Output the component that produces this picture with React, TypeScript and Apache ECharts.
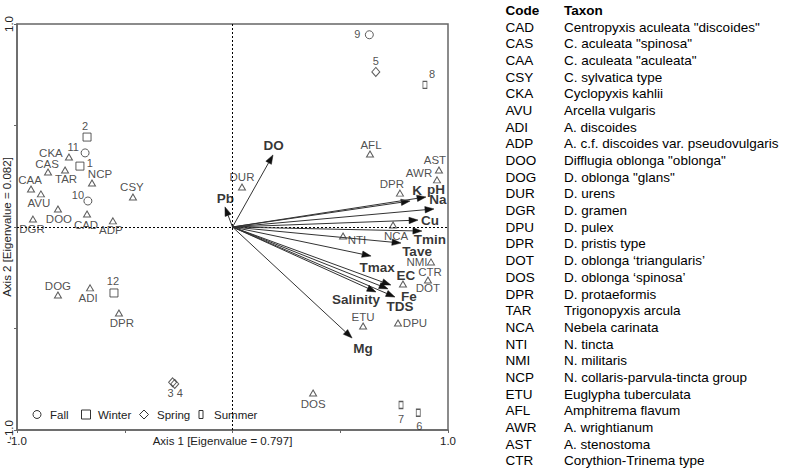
import React, { useEffect, useRef } from 'react';
import * as echarts from 'echarts';

// ---- Species scores (triangles) ----
const speciesCodes = ['CKA', 'CAS', 'TAR', 'CAA', 'AVU', 'DOO', 'DGR', 'CAD', 'ADP', 'NCP', 'CSY', 'DOG', 'ADI', 'DPR', 'DUR', 'AFL', 'AST', 'AWR', 'DPR', 'NTI', 'NCA', 'NMI', 'CTR', 'DOT', 'ETU', 'DPU', 'DOS'];
const speciesAxis1 = [-0.759, -0.856, -0.777, -0.935, -0.889, -0.81, -0.926, -0.675, -0.555, -0.652, -0.462, -0.81, -0.661, -0.527, 0.044, 0.638, 0.958, 0.949, 0.777, 0.513, 0.745, 0.921, 0.907, 0.791, 0.606, 0.768, 0.374];
const speciesAxis2 = [0.345, 0.271, 0.281, 0.187, 0.163, 0.089, 0.039, 0.064, 0.03, 0.217, 0.148, -0.335, -0.3, -0.424, 0.197, 0.36, 0.281, 0.232, 0.167, -0.044, 0.01, -0.172, -0.261, -0.281, -0.488, -0.473, -0.818];

// ---- Sample scores ----
const sampleIds = ['1', '2', '3', '4', '5', '6', '7', '8', '9', '10', '11', '12'];
const sampleSeason = ['Winter', 'Winter', 'Spring', 'Spring', 'Spring', 'Summer', 'Summer', 'Summer', 'Fall', 'Fall', 'Fall', 'Winter'];
const sampleAxis1 = [-0.708, -0.675, -0.278, -0.268, 0.665, 0.862, 0.782, 0.893, 0.635, -0.671, -0.684, -0.55];
const sampleAxis2 = [0.3, 0.443, -0.765, -0.773, 0.764, -0.915, -0.877, 0.7, 0.947, 0.128, 0.365, -0.325];

// ---- Environmental variables (arrows) ----
const envNames = ['DO', 'Pb', 'K', 'pH', 'Na', 'Cu', 'Tmin', 'Tave', 'Tmax', 'EC', 'TDS', 'Fe', 'Salinity', 'Mg'];
const envAxis1 = [0.188, -0.035, 0.824, 0.898, 0.935, 0.861, 0.879, 0.782, 0.643, 0.735, 0.722, 0.754, 0.666, 0.555];
const envAxis2 = [0.355, 0.099, 0.128, 0.148, 0.089, 0.034, -0.02, -0.079, -0.143, -0.286, -0.305, -0.345, -0.32, -0.547];

// ---- Seasons ----
const seasons = ['Fall', 'Winter', 'Spring', 'Summer'];

// ---- Axis ----
const axisMin = -1;
const axisMax = 1;
const axisStep = 0.5;
const xAxisName = 'Axis 1 [Eigenvalue = 0.797]';
const yAxisName = 'Axis 2 [Eigenvalue = 0.082]';

// ---- Code table ----
const tableCodes = ['CAD', 'CAS', 'CAA', 'CSY', 'CKA', 'AVU', 'ADI', 'ADP', 'DOO', 'DOG', 'DUR', 'DGR', 'DPU', 'DPR', 'DOT', 'DOS', 'DPR', 'TAR', 'NCA', 'NTI', 'NMI', 'NCP', 'ETU', 'AFL', 'AWR', 'AST', 'CTR'];
const tableTaxa = [
  'Centropyxis aculeata "discoides"',
  'C. aculeata "spinosa"',
  'C. aculeata "aculeata"',
  'C. sylvatica type',
  'Cyclopyxis kahlii',
  'Arcella vulgaris',
  'A. discoides',
  'A. c.f. discoides var. pseudovulgaris',
  'Difflugia oblonga "oblonga"',
  'D. oblonga "glans"',
  'D. urens',
  'D. gramen',
  'D. pulex',
  'D. pristis type',
  'D. oblonga \u2018triangularis\u2019',
  'D. oblonga \u2018spinosa\u2019',
  'D. protaeformis',
  'Trigonopyxis arcula',
  'Nebela carinata',
  'N. tincta',
  'N. militaris',
  'N. collaris-parvula-tincta group',
  'Euglypha tuberculata',
  'Amphitrema flavum',
  'A. wrightianum',
  'A. stenostoma',
  'Corythion-Trinema type',
];

// ---- Layout (label offsets in px, not data) ----
const speciesLabelOffset = [[-18, -4], [-1, -8], [1, 9], [-1, -9], [-2, 9], [1, 10], [-1, 10], [-1, 11], [-2, 9], [8, -9], [-1, -10], [0, -9], [-2, 10], [3, 10], [0, -10], [1, -9], [-4, -10], [-18, -7], [-8, -9], [14, 4], [3, 11], [-14, 0], [2, -8], [25, 4], [0, -9], [17, 0], [0, 11]];
const sampleLabelOffset = [[10, -3], [-2, -11], [-2, 11], [5, 9], [0, -10.5], [1, 13], [0, 14], [7, -11], [-12, -1], [-10, -6], [-12, -6], [-1, -12]];
const envLabelOffset = [[0.5, -9], [0.5, -8], [7, -11], [10, -7], [4, -9], [12, 0], [8, 8], [16, 8], [6, 11], [15, -10], [12, 18], [14, -1], [-20, 8], [11, 10]];

const FONT = 'Liberation Sans, Arial, Helvetica, sans-serif';
const INK = '#333';

const seasonSymbol: Record<string, any> = {
  Fall: { symbol: 'circle', size: 8 },
  Winter: { symbol: 'rect', size: 8 },
  Spring: { symbol: 'diamond', size: [8, 9] },
  Summer: { symbol: 'rect', size: [4, 7] },
};

function renderArrow(params: any, api: any) {
  const p0 = api.coord([0, 0]);
  const p1 = api.coord([api.value(0), api.value(1)]);
  const dx = p1[0] - p0[0];
  const dy = p1[1] - p0[1];
  const len = Math.sqrt(dx * dx + dy * dy) || 1;
  const ux = dx / len;
  const uy = dy / len;
  const headLen = 9;
  const headHalf = 3.2;
  const bx = p1[0] - ux * headLen;
  const by = p1[1] - uy * headLen;
  return {
    type: 'group',
    children: [
      {
        type: 'line',
        shape: { x1: p0[0], y1: p0[1], x2: bx, y2: by },
        style: { stroke: '#333', lineWidth: 1 },
      },
      {
        type: 'polygon',
        shape: {
          points: [
            [p1[0], p1[1]],
            [bx - uy * headHalf, by + ux * headHalf],
            [bx + uy * headHalf, by - ux * headHalf],
          ],
        },
        style: { fill: '#111', stroke: '#111', lineWidth: 0.5 },
      },
    ],
  };
}

const plainLabel = {
  show: true,
  position: 'inside',
  formatter: '{b}',
  fontFamily: FONT,
  color: '#222',
  textBorderWidth: 0,
  textBorderColor: 'rgba(0,0,0,0)',
  textShadowBlur: 0,
};

function buildOption() {
  const speciesData = speciesCodes.map((c, i) => ({
    name: c,
    value: [speciesAxis1[i], speciesAxis2[i]],
    label: { offset: speciesLabelOffset[i] },
  }));

  const seasonSeries = seasons.map((s) => ({
    name: s,
    type: 'scatter',
    symbol: seasonSymbol[s].symbol,
    symbolSize: seasonSymbol[s].size,
    color: INK,
    itemStyle: { color: 'rgba(0,0,0,0)', borderColor: INK, borderWidth: 1 },
    label: { ...plainLabel, fontSize: 11 },
    z: 4,
    data: sampleIds
      .map((id, i) => ({ id, i }))
      .filter((o) => sampleSeason[o.i] === s)
      .map((o) => ({
        name: o.id,
        value: [sampleAxis1[o.i], sampleAxis2[o.i]],
        label: { offset: sampleLabelOffset[o.i] },
      })),
  }));

  const envData = envNames.map((n, i) => ({
    name: n,
    value: [envAxis1[i], envAxis2[i]],
    label: { offset: envLabelOffset[i] },
  }));

  const legendY = 414.5;
  const legendFont = { fontFamily: FONT, fontSize: 11.5, fill: '#222' };
  const legendGraphics: any[] = [
    { type: 'circle', shape: { cx: 37, cy: legendY, r: 4 }, style: { fill: 'none', stroke: INK, lineWidth: 1 } },
    { type: 'text', x: 50, y: legendY, style: { ...legendFont, text: seasons[0], align: 'left', verticalAlign: 'middle' } },
    { type: 'rect', shape: { x: 81.5, y: legendY - 4.5, width: 9, height: 9 }, style: { fill: 'none', stroke: INK, lineWidth: 1 } },
    { type: 'text', x: 98, y: legendY, style: { ...legendFont, text: seasons[1], align: 'left', verticalAlign: 'middle' } },
    { type: 'polygon', shape: { points: [[144, legendY - 4.5], [148.5, legendY], [144, legendY + 4.5], [139.5, legendY]] }, style: { fill: 'none', stroke: INK, lineWidth: 1 } },
    { type: 'text', x: 157, y: legendY, style: { ...legendFont, text: seasons[2], align: 'left', verticalAlign: 'middle' } },
    { type: 'rect', shape: { x: 199, y: legendY - 4, width: 4, height: 8 }, style: { fill: 'none', stroke: INK, lineWidth: 1 } },
    { type: 'text', x: 214, y: legendY, style: { ...legendFont, text: seasons[3], align: 'left', verticalAlign: 'middle' } },
  ];

  const rowY0 = 27;
  const rowStep = 16.69;
  const codeX = 505.5;
  const taxonX = 564;
  const tableFont = { fontFamily: FONT, fontSize: 13.5, fill: '#000' };
  const tableGraphics: any[] = [
    { type: 'text', x: codeX, y: 10.5, style: { ...tableFont, fontWeight: 'bold', text: 'Code', align: 'left', verticalAlign: 'middle' } },
    { type: 'text', x: taxonX, y: 10.5, style: { ...tableFont, fontWeight: 'bold', text: 'Taxon', align: 'left', verticalAlign: 'middle' } },
  ];
  tableCodes.forEach((c, i) => {
    const y = rowY0 + i * rowStep;
    tableGraphics.push({ type: 'text', x: codeX, y, style: { ...tableFont, text: c, align: 'left', verticalAlign: 'middle' } });
    tableGraphics.push({ type: 'text', x: taxonX, y, style: { ...tableFont, text: tableTaxa[i], align: 'left', verticalAlign: 'middle' } });
  });

  const endLabel = (v: number) => (v === axisMin ? '-1.0' : v === axisMax ? '1.0' : '');

  return {
    animation: false,
    backgroundColor: '#fff',
    grid: {
      left: 17,
      right: 352,
      top: 24,
      bottom: 40,
      containLabel: false,
      outerBoundsMode: 'none',
      show: true,
      borderColor: '#666',
      borderWidth: 1.5,
      backgroundColor: 'rgba(0,0,0,0)',
    },
    xAxis: {
      type: 'value',
      min: axisMin,
      max: axisMax,
      interval: axisStep,
      name: xAxisName,
      nameLocation: 'middle',
      nameGap: 5,
      nameMoveOverlap: false,
      nameTextStyle: { fontFamily: FONT, fontSize: 11.5, color: '#222', padding: [0, 20, 0, 0], verticalAlign: 'top' },
      axisLine: { show: true, onZero: false, lineStyle: { color: '#666', width: 1.5 } },
      axisTick: { show: true, length: 3, lineStyle: { color: '#666' } },
      axisLabel: { formatter: endLabel, fontFamily: FONT, fontSize: 11.5, color: '#222', margin: 5 },
      splitLine: { show: false },
    },
    yAxis: {
      type: 'value',
      min: axisMin,
      max: axisMax,
      interval: axisStep,
      name: yAxisName,
      nameLocation: 'middle',
      nameGap: 4,
      nameMoveOverlap: false,
      nameTextStyle: { fontFamily: FONT, fontSize: 11.5, color: '#222' },
      axisLine: { show: true, onZero: false, lineStyle: { color: '#666', width: 1.5 } },
      axisTick: { show: true, length: 3, lineStyle: { color: '#666' } },
      axisLabel: { formatter: endLabel, rotate: 90, fontFamily: FONT, fontSize: 11.5, color: '#222', margin: 2 },
      splitLine: { show: false },
    },
    graphic: [...legendGraphics, ...tableGraphics],
    series: [
      {
        name: 'Species',
        type: 'scatter',
        symbol: 'triangle',
        symbolSize: [7, 6],
        color: INK,
        itemStyle: { color: 'rgba(0,0,0,0)', borderColor: INK, borderWidth: 1 },
        label: { ...plainLabel, fontSize: 11.5 },
        z: 3,
        data: speciesData,
        markLine: {
          silent: true,
          symbol: ['none', 'none'],
          label: { show: false },
          lineStyle: { color: '#000', width: 1, type: [2, 2] },
          data: [{ xAxis: 0 }, { yAxis: 0 }],
          z: 1,
        },
      },
      ...seasonSeries,
      {
        name: 'Environmental arrows',
        type: 'custom',
        renderItem: renderArrow,
        silent: true,
        z: 2,
        data: envNames.map((n, i) => [envAxis1[i], envAxis2[i]]),
      },
      {
        name: 'Environmental variables',
        type: 'scatter',
        symbolSize: 1,
        color: '#000',
        itemStyle: { color: 'rgba(0,0,0,0)' },
        label: { ...plainLabel, fontSize: 13.5, fontWeight: 'bold', color: '#000' },
        z: 5,
        data: envData,
      },
    ],
  };
}

export default function App() {
  const ref = useRef<HTMLDivElement>(null);
  useEffect(() => {
    if (!ref.current) return;
    const chart = echarts.init(ref.current, null, { renderer: 'svg' });
    chart.setOption(buildOption() as any);
    return () => {
      chart.dispose();
    };
  }, []);
  return (
    <div
      ref={ref}
      style={{ position: 'fixed', left: 0, top: 0, width: 800, height: 470, background: '#fff' }}
    />
  );
}
